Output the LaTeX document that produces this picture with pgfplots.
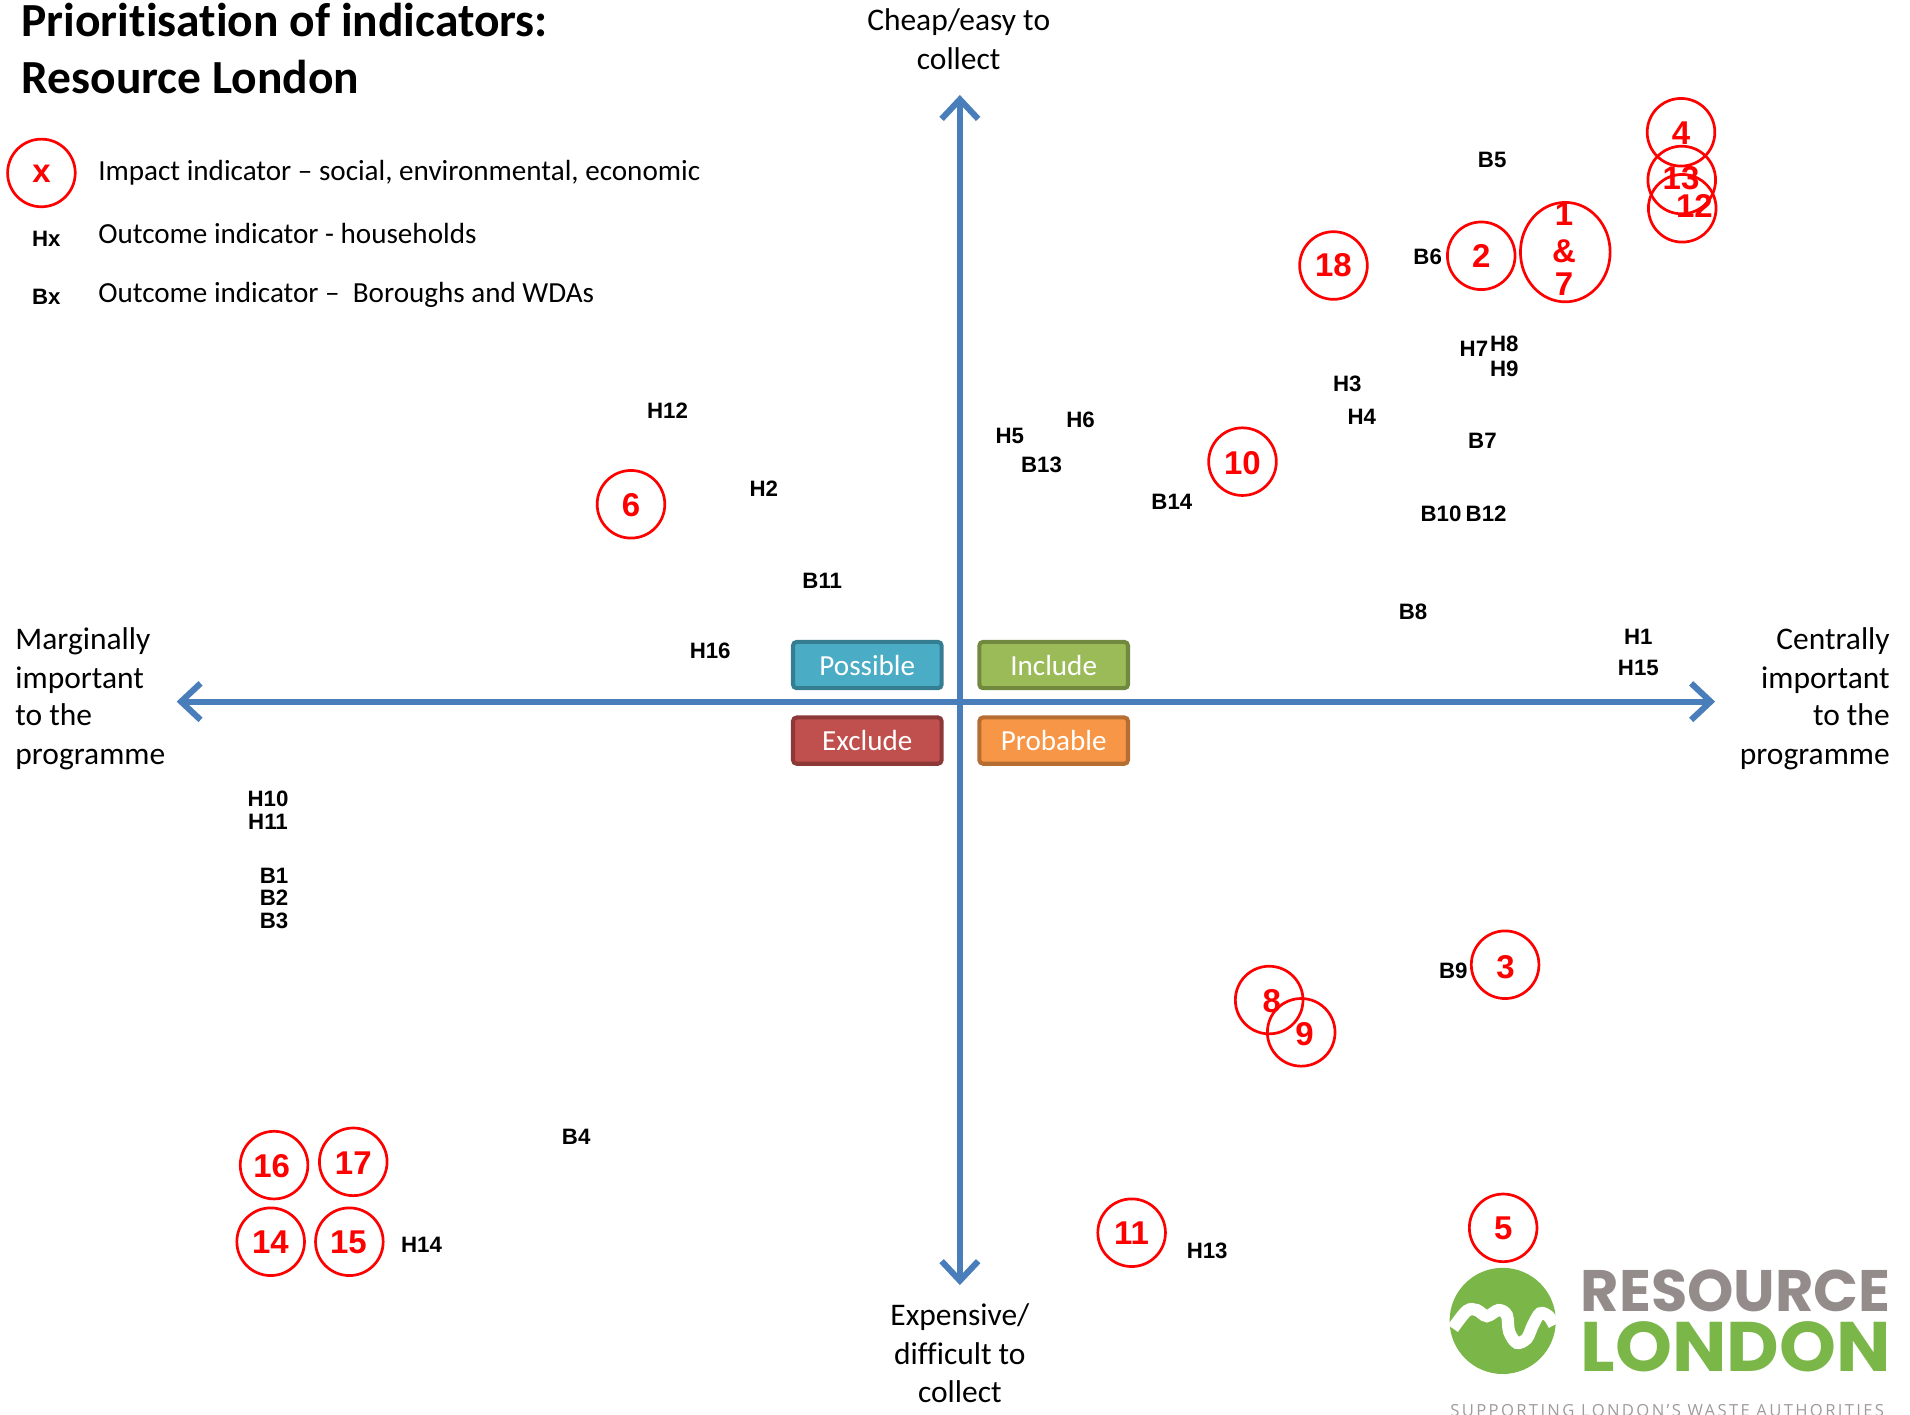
\documentclass[border=0pt]{standalone}
\usepackage{fontspec}
\setmainfont{Carlito}[Ligatures=NoCommon]
\newfontfamily\arial{Liberation Sans}
\newfontfamily\poppins{Poppins}
\newfontfamily\opensans{Open Sans}[LetterSpace=14]
\usepackage{pgfplots}
\pgfplotsset{compat=1.18}
\usetikzlibrary{arrows.meta}
\definecolor{axisblue}{HTML}{4A7EBB}
\definecolor{possfill}{HTML}{4BACC6}
\definecolor{possdraw}{HTML}{357D91}
\definecolor{inclfill}{HTML}{9BBB59}
\definecolor{incldraw}{HTML}{71893F}
\definecolor{exclfill}{HTML}{C0504D}
\definecolor{excldraw}{HTML}{8C3836}
\definecolor{probfill}{HTML}{F79646}
\definecolor{probdraw}{HTML}{B66D31}
\definecolor{logogreen}{HTML}{7AB648}
\definecolor{logogray}{HTML}{948C8B}
\definecolor{logogray2}{HTML}{A09A99}
\definecolor{circred}{HTML}{FF0000}
\newcommand\labfont{\arial\bfseries\fontsize{5.2pt}{6pt}\selectfont}
\newcommand\numfont{\arial\bfseries\fontsize{7.7pt}{9pt}\selectfont}
\newcommand\axfont{\fontsize{7.35pt}{9pt}\selectfont}
\newcommand\legfont{\fontsize{6.8pt}{8pt}\selectfont}
\newcommand\boxfont{\fontsize{6.8pt}{8pt}\selectfont}
\newcommand\titfont{\bfseries\fontsize{11.1pt}{13pt}\selectfont}
\begin{document}
\begin{tikzpicture}
\begin{axis}[at={(0,0)}, anchor=south west, scale only axis,
  width=15.68cm, height=11.61cm,
  xmin=0, xmax=1568, ymin=0, ymax=1161, y dir=reverse,
  hide axis, clip=false, set layers]

% axes arrows
\addplot[axisblue, line width=0.5mm, {Straight Barb[length=1.6mm,width=3mm]}-{Straight Barb[length=1.6mm,width=3mm]}]
  coordinates {(145,576) (1408,576)};
\addplot[axisblue, line width=0.5mm, {Straight Barb[length=1.6mm,width=3mm]}-{Straight Barb[length=1.6mm,width=3mm]}]
  coordinates {(788,78) (788,1055)};

% quadrant boxes
\addplot[fill=possfill, draw=possdraw, line width=0.33mm, rounded corners=0.3mm]
  coordinates {(651,527) (773,527) (773,565) (651,565)} -- cycle;
\addplot[fill=inclfill, draw=incldraw, line width=0.33mm, rounded corners=0.3mm]
  coordinates {(804,527) (926,527) (926,565) (804,565)} -- cycle;
\addplot[fill=exclfill, draw=excldraw, line width=0.33mm, rounded corners=0.3mm]
  coordinates {(651,589) (773,589) (773,627) (651,627)} -- cycle;
\addplot[fill=probfill, draw=probdraw, line width=0.33mm, rounded corners=0.3mm]
  coordinates {(804,589) (926,589) (926,627) (804,627)} -- cycle;
\node[text=white, font=\boxfont, inner sep=0pt] at (axis cs:712,546) {Possible};
\node[text=white, font=\boxfont, inner sep=0pt] at (axis cs:865,546) {Include};
\node[text=white, font=\boxfont, inner sep=0pt] at (axis cs:712,608) {Exclude};
\node[text=white, font=\boxfont, inner sep=0pt] at (axis cs:865,608) {Probable};

% red circles
\addplot[circred, only marks, mark=o, mark size=7.9pt, mark options={line width=0.63pt}]
  coordinates {(1380,108.6) (1380.6,147.8) (1381,171) (1216,210) (1094.7,218)
   (1020,379) (518,414) (1235.6,792) (1041.9,821) (1068.2,847.5) (929,1012)
   (1234,1008) (225,956.5) (290,953.8) (222.2,1019.4) (286.8,1019.4) (34,142)};
\addplot[circred, only marks, mark=o, mark size=7.9pt, mark options={line width=0.63pt, xscale=1.326, yscale=1.47}]
  coordinates {(1285,207)};

% red numbers
\addplot[draw=none, nodes near coords, point meta=explicit symbolic,
  every node near coord/.style={anchor=center, inner sep=0pt, font=\numfont, text=circred}]
  coordinates {(1380,109)[4] (1380,146)[13] (1391,169)[12] (1216,210)[2] (1094.7,218)[18]
   (1020,380)[10] (518,415)[6] (1236,794)[3] (1044,822)[8] (1071,849)[9] (929,1012)[11]
   (1234,1008)[5] (223,957)[16] (290,955)[17] (222,1020)[14] (286,1020)[15]
   (1284,176)[1] (1284,206)[\&] (1284,233)[7] (34,143)[x]};

% black labels
\addplot[draw=none, nodes near coords, point meta=explicit symbolic,
  every node near coord/.style={anchor=center, inner sep=0pt, font=\labfont, text=black}]
  coordinates {(1225,131)[B5] (1172,211)[B6] (1210,286)[H7] (1235,282)[H8] (1235,303)[H9]
   (1106,315)[H3] (1118,342)[H4] (1217,362)[B7] (1183,422)[B10] (1220,422)[B12]
   (1160,502)[B8] (1345,523)[H1] (1345,548)[H15] (548,337)[H12] (627,401)[H2]
   (829,358)[H5] (887,345)[H6] (855,382)[B13] (962,412)[B14] (675,477)[B11]
   (583,534)[H16] (220,656)[H10] (220,675)[H11] (225,719)[B1] (225,737)[B2]
   (225,756)[B3] (1193,797)[B9] (473,933)[B4] (346,1022)[H14] (991,1027)[H13]
   (38,196)[Hx] (38,244)[Bx]};

% title
\node[anchor=base west, inner sep=0pt, font=\titfont] at (axis cs:17,30) {Prioritisation of indicators:};
\node[anchor=base west, inner sep=0pt, font=\titfont] at (axis cs:17,77) {Resource London};

% legend text
\node[anchor=base west, inner sep=0pt, font=\legfont] at (axis cs:80,148) {Impact indicator -- social, environmental, economic};
\node[anchor=base west, inner sep=0pt, font=\legfont] at (axis cs:80,200) {Outcome indicator - households};
\node[anchor=base west, inner sep=0pt, font=\legfont] at (axis cs:80,248) {Outcome indicator --\ \ Boroughs and WDAs};

% axis labels
\node[anchor=base, inner sep=0pt, font=\axfont] at (axis cs:787,25) {Cheap/easy to};
\node[anchor=base, inner sep=0pt, font=\axfont] at (axis cs:787,57) {collect};
\node[anchor=base, inner sep=0pt, font=\axfont] at (axis cs:788,1088) {Expensive/};
\node[anchor=base, inner sep=0pt, font=\axfont] at (axis cs:788,1120) {difficult to};
\node[anchor=base, inner sep=0pt, font=\axfont] at (axis cs:788,1151) {collect};
\node[anchor=base west, inner sep=0pt, font=\axfont] at (axis cs:12,533) {Marginally};
\node[anchor=base west, inner sep=0pt, font=\axfont] at (axis cs:12,565) {important};
\node[anchor=base west, inner sep=0pt, font=\axfont] at (axis cs:12,596) {to the};
\node[anchor=base west, inner sep=0pt, font=\axfont] at (axis cs:12,628) {programme};
\node[anchor=base east, inner sep=0pt, font=\axfont] at (axis cs:1552,533) {Centrally};
\node[anchor=base east, inner sep=0pt, font=\axfont] at (axis cs:1552,565) {important};
\node[anchor=base east, inner sep=0pt, font=\axfont] at (axis cs:1552,596) {to the};
\node[anchor=base east, inner sep=0pt, font=\axfont] at (axis cs:1552,628) {programme};

% logo
\addplot[logogreen, only marks, mark=*, mark size=12.2pt] coordinates {(1233.6,1084.4)};
\addplot[white, line width=1.0mm, smooth, tension=0.55, on layer=axis foreground] coordinates {
  (1192.7,1090.6) (1204.2,1076.1) (1212.4,1075.5) (1220.6,1080.5) (1230.2,1075.5)
  (1237.0,1079.6) (1238.9,1093.3) (1245.2,1102.4) (1253.4,1098.8) (1258.4,1087.8)
  (1264.4,1078.2) (1271.2,1080.5) (1275.9,1087.8)};
\node[anchor=base west, inner sep=0pt] at (axis cs:1297,1077)
  {\resizebox{25.45mm}{3.42mm}{\color{logogray}\poppins\bfseries RESOURCE}};
\node[anchor=base west, inner sep=0pt] at (axis cs:1297,1126)
  {\resizebox{25.45mm}{4.1mm}{\color{logogreen}\poppins\bfseries LONDON}};
\node[anchor=north west, inner sep=0pt] at (axis cs:1190,1152)
  {\resizebox{35.6mm}{!}{\color{logogray2}\opensans SUPPORTING LONDON’S WASTE AUTHORITIES}};
\end{axis}
\pgfresetboundingbox
\path (0,0) rectangle (15.68cm,11.61cm);
\end{tikzpicture}
\end{document}
